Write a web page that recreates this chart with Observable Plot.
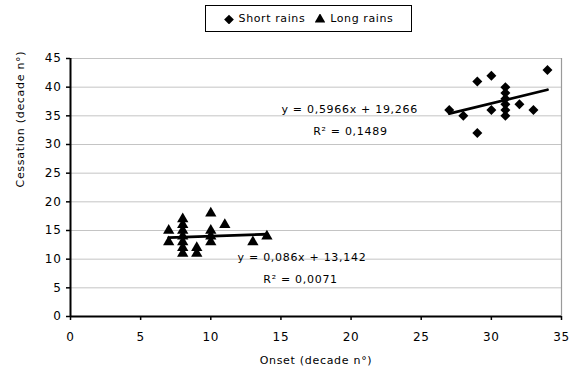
<!DOCTYPE html>
<html>
<head>
<meta charset="utf-8">
<script src="https://cdn.jsdelivr.net/npm/d3@7"></script>
<script src="https://cdn.jsdelivr.net/npm/@observablehq/plot@0.6"></script>
<style>
  html, body { margin: 0; padding: 0; background: #fff; }
  body { width: 574px; height: 376px; overflow: hidden; font-family: "DejaVu Sans", sans-serif; }
  #legend { height: 40px; position: relative; }
  #legend .box {
    position: absolute; left: 205px; top: 5px; width: 207px; height: 27px;
    border: 1.5px solid #000; box-sizing: border-box;
    display: flex; align-items: center; justify-content: center; gap: 10px;
    font-size: 11px; letter-spacing: 0.6px; color: #000;
  }
  #legend .item { display: flex; align-items: center; gap: 5px; }
  #legend svg { display: block; }
</style>
</head>
<body>
<div id="legend"></div>
<div id="chart"></div>
<script>
// Short rains: onset and cessation (decade number)
const shortOnset     = [27, 28, 29, 29, 30, 30, 31, 31, 31, 31, 31, 31, 32, 33, 34];
const shortCessation = [36, 35, 41, 32, 42, 36, 35, 36, 37, 38, 39, 40, 37, 36, 43];

// Long rains: onset and cessation (decade number)
const longOnset     = [7, 7, 8, 8, 8, 8, 8, 8, 8, 9, 9, 10, 10, 10, 10, 11, 13, 14];
const longCessation = [15, 13, 11, 12, 13, 14, 15, 16, 17, 11, 12, 18, 15, 14, 13, 16, 13, 14];

// Linear trend coefficients (slope, intercept) and R²
const shortTrend = {slope: 0.5966, intercept: 19.266, r2: 0.1489};
const longTrend  = {slope: 0.086,  intercept: 13.142, r2: 0.0071};

const xTicks = [0, 5, 10, 15, 20, 25, 30, 35];
const yTicks = [0, 5, 10, 15, 20, 25, 30, 35, 40, 45];

const seriesNames = ["Short rains", "Long rains"];

const shortPts = shortOnset.map((x, i) => ({x, y: shortCessation[i]}));
const longPts  = longOnset.map((x, i) => ({x, y: longCessation[i]}));

function trendLine(xs, t) {
  const [x0, x1] = d3.extent(xs);
  return [x0, x1].map(x => ({x, y: t.slope * x + t.intercept}));
}

const fmt = (v, d) => v.toFixed(d).replace(".", ",");
const eq = (t, d) => `y = ${fmt(t.slope, d)}x + ${fmt(t.intercept, 3)}`;

const font = "DejaVu Sans, sans-serif";

const chart = Plot.plot({
  width: 574,
  height: 336,
  marginTop: 18,
  marginRight: 13,
  marginBottom: 60,
  marginLeft: 70,
  style: {fontFamily: font, fontSize: "11px", color: "#000", background: "#fff"},
  x: {type: "linear", domain: [0, 35], ticks: xTicks, label: null},
  y: {type: "linear", domain: [0, 45], ticks: yTicks, label: null},
  marks: [
    // horizontal gridlines and the plot-area border
    Plot.gridY(yTicks, {stroke: "#c4c4c4", strokeOpacity: 1, strokeWidth: 1}),
    Plot.ruleX([35], {stroke: "#9a9a9a", strokeWidth: 1.2}),
    // axes
    Plot.ruleX([0], {stroke: "#000", strokeWidth: 2}),
    Plot.ruleY([0], {stroke: "#000", strokeWidth: 2}),
    Plot.axisY(yTicks, {tickSize: 4, tickPadding: 5, tickFormat: d => d, fontSize: 12, stroke: "#000", strokeWidth: 1.5}),
    Plot.axisX(xTicks, {tickSize: 4, tickPadding: 12, tickFormat: d => d, fontSize: 12, stroke: "#000", strokeWidth: 1.5}),
    // series
    Plot.dot(shortPts, {x: "x", y: "y", symbol: "diamond2", r: 4.5, fill: "#000", stroke: "none"}),
    Plot.dot(longPts,  {x: "x", y: "y", symbol: "triangle", r: 4.2, fill: "#000", stroke: "none"}),
    // trend lines
    Plot.line(trendLine(shortOnset, shortTrend), {x: "x", y: "y", stroke: "#000", strokeWidth: 2.8}),
    Plot.line(trendLine(longOnset, longTrend),   {x: "x", y: "y", stroke: "#000", strokeWidth: 2.8}),
    // trend equations
    Plot.text([eq(shortTrend, 4)], {x: 19.9, y: 36.1, fontSize: 11, fill: "#000"}),
    Plot.text([`R² = ${fmt(shortTrend.r2, 4)}`], {x: 19.95, y: 32.3, fontSize: 11, fill: "#000"}),
    Plot.text([eq(longTrend, 3)], {x: 16.5, y: 10.3, fontSize: 11, fill: "#000"}),
    Plot.text([`R² = ${fmt(longTrend.r2, 4)}`], {x: 16.4, y: 6.5, fontSize: 11, fill: "#000"}),
    // axis titles
    Plot.text(["Onset (decade n°)"], {frameAnchor: "bottom", dy: 47, fontSize: 11, fill: "#000"}),
    Plot.text(["Cessation (decade n°)"], {frameAnchor: "left", dx: -50, rotate: -90, fontSize: 11, fill: "#000"})
  ]
});
chart.querySelectorAll("text").forEach(t => t.setAttribute("letter-spacing", "0.7"));
document.getElementById("chart").appendChild(chart);

// legend
const symbolPaths = {
  "Short rains": d3.symbol(d3.symbolDiamond2, 60)(),
  "Long rains": d3.symbol(d3.symbolTriangle, 50)()
};
const box = d3.select("#legend").append("div").attr("class", "box");
for (const name of seriesNames) {
  const item = box.append("div").attr("class", "item");
  item.append("svg").attr("width", 10).attr("height", 10)
    .append("path").attr("transform", "translate(5,5.5)").attr("d", symbolPaths[name]).attr("fill", "#000");
  item.append("span").text(name);
}
</script>
</body>
</html>
